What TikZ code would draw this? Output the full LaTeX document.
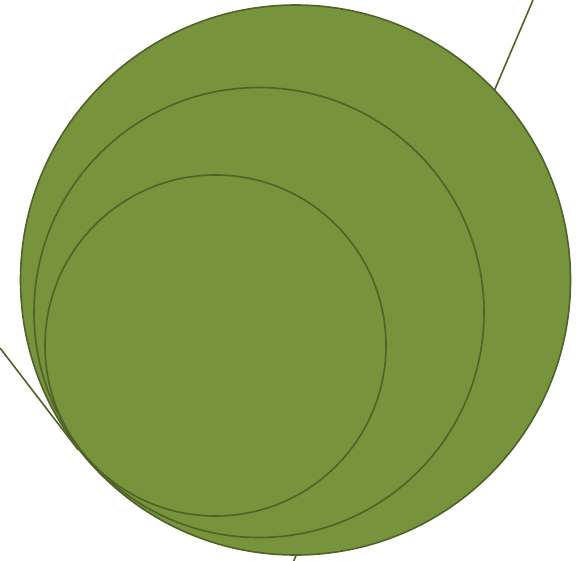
\documentclass[tikz,border=0pt]{standalone}
\usepackage{xcolor}
\usetikzlibrary{positioning}
\definecolor{olivefill}{HTML}{77933C}
\definecolor{olivedraw}{HTML}{4F6228}

\begin{document}
\begin{tikzpicture}[x=1pt, y=-1pt,
  disc/.style={circle, draw=olivedraw, fill=olivefill, line width=1.6pt,
               inner sep=0pt},
  ray/.style={draw=olivedraw, line width=1.6pt}
]
\useasboundingbox (0,0) rectangle (585,560);
%% Free ends of the lines
\coordinate (rtop) at (533,0);
\coordinate (rbot) at (292,565);
\coordinate (lft) at (0,348);
%% Line behind the discs
\draw[ray] (rtop) -- (rbot);
%% Discs
\node[disc, minimum size=550pt] (outer) at (295.5,280) {};
\node[disc, minimum size=450pt] (middle) at (259,312.5) {};
\node[disc, minimum size=341pt] (inner) at (215.5,345.5) {};
%% Tangent line
\draw[ray] (lft) -- (outer.218);
\end{tikzpicture}
\end{document}
